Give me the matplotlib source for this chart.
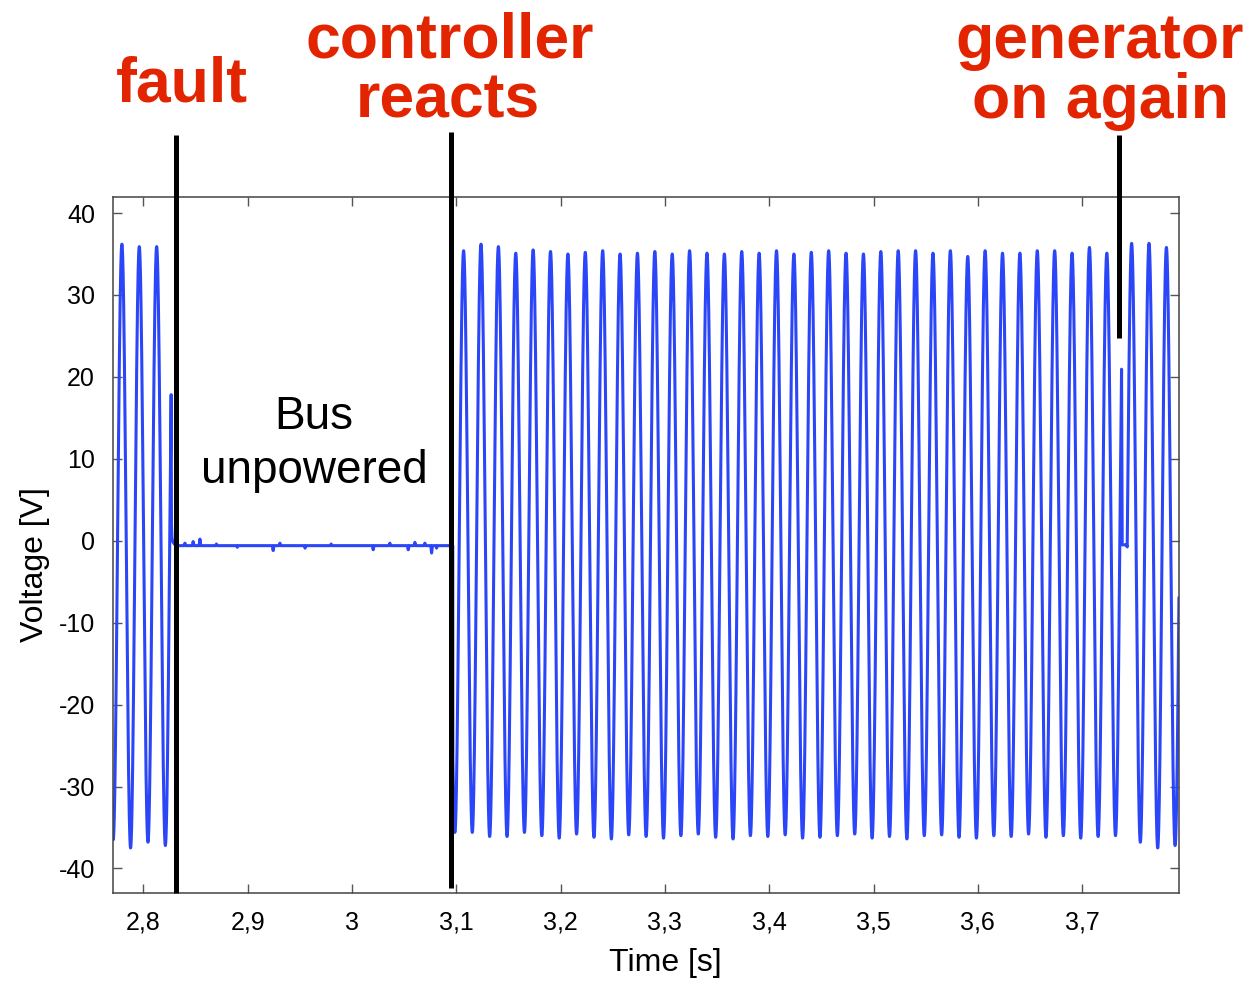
import numpy as np
import matplotlib.pyplot as plt
import matplotlib.transforms as mtransforms

plt.rcParams['font.family'] = ['Liberation Sans', 'DejaVu Sans']
plt.rcParams['axes.unicode_minus'] = False

period = 1 / 60.0

# --- segment 1: generator running, until the fault (values alternate peak / trough) ---
seg1_first_peak = 2.7627
seg1_extremes = [36.0, -36.5, 36.2, -37.5, 35.9, -36.8, 35.9, -37.2, 36.0]
seg1_end = 2.8266          # waveform collapses here (spike ~16.6 V)

# fault transient down to the unpowered level
tail_t = [2.8269, 2.8274, 2.8285, 2.8300, 2.8320]
tail_v = [2.0, 0.3, -0.2, -0.45, -0.6]

# --- bus unpowered: flat level with a few small glitches ---
flat_level = -0.6
flat_start = 2.8320
flat_end = 3.0966
glitch_t = [2.8398, 2.8477, 2.8542, 2.8700, 2.8900, 2.9244, 2.9309, 2.9550,
            2.9800, 3.0203, 3.0363, 3.0539, 3.0603, 3.0699, 3.0763, 3.0811]
glitch_v = [-0.3, -0.1, 0.2, -0.4, -0.8, -1.2, -0.3, -0.9,
            -0.4, -1.1, -0.3, -1.1, -0.2, -0.3, -1.5, -0.9]

# --- segment 2: controller reconnects the bus ---
seg2_first_peak = 3.0903
seg2_lead_peak = 35.0
seg2_troughs = [-35.6, -35.6, -36.1, -36.1, -35.6, -36.0, -36.3, -35.8, -36.2, -36.4,
                -35.9, -36.1, -36.3, -36.0, -35.8, -36.2, -36.4, -36.0, -36.1, -35.9,
                -36.3, -36.2, -36.0, -35.8, -36.3, -36.1, -36.4, -36.0, -35.9, -36.2,
                -36.3, -36.0, -36.1, -35.8, -36.2, -36.0, -36.3, -36.1, -36.0]
seg2_peaks = [35.4, 36.2, 35.9, 35.1, 35.5, 35.3, 35.0, 35.2, 35.4, 35.0,
              35.1, 35.3, 35.0, 35.4, 35.1, 35.0, 35.3, 35.1, 35.4, 35.0,
              35.2, 35.4, 35.1, 35.0, 35.3, 35.4, 35.4, 35.1, 35.4, 34.7,
              35.4, 35.1, 35.1, 35.4, 35.4, 35.1, 35.8, 35.1, 36.0]
seg2_end = 3.7378          # spike ~21 V before the short dropout

# short dropout when the generator comes back
drop_t = [3.7384, 3.7425]
drop_v = [-0.5, -0.5]

# --- segment 3: generator on again ---
seg3_first_extreme = 3.7391
seg3_extremes = [-36.0, 36.3, -36.8, 36.3, -37.5, 35.8, -37.2, 36.0]
seg3_start = 3.7432

# annotation lines (time, top value, bottom value)
event_t = [2.8312, 3.0953, 3.7356]
event_top = [49.5, 49.9, 49.5]
event_bottom = [-43.0, -42.4, 24.8]

xtick_vals = [2.8, 2.9, 3.0, 3.1, 3.2, 3.3, 3.4, 3.5, 3.6, 3.7]
xtick_labels = ['2,8', '2,9', '3', '3,1', '3,2', '3,3', '3,4', '3,5', '3,6', '3,7']
ytick_vals = [40, 30, 20, 10, 0, -10, -20, -30, -40]


def waveform(first_time, extremes, t):
    ext = np.array(extremes)
    times = first_time + np.arange(len(ext)) * period / 2
    idx = np.clip(np.searchsorted(times, t) - 1, 0, len(ext) - 2)
    v0 = ext[idx]
    v1 = ext[idx + 1]
    ph = (t - times[idx]) / (period / 2)
    return (v0 + v1) / 2 + (v0 - v1) / 2 * np.cos(np.pi * ph)


def alternate(lead, troughs, peaks):
    out = [lead]
    for i in range(len(troughs)):
        out.append(troughs[i])
        if i < len(peaks):
            out.append(peaks[i])
    return out


step = 2e-5
t1 = np.arange(2.7600, seg1_end, step)
v1 = waveform(seg1_first_peak, seg1_extremes, t1)

ft = [flat_start]
fv = [flat_level]
for g, gv in zip(glitch_t, glitch_v):
    ft += [g - 0.0008, g, g + 0.0008]
    fv += [flat_level, gv, flat_level]
ft.append(flat_end)
fv.append(flat_level)

seg2_ext = alternate(seg2_lead_peak, seg2_troughs, seg2_peaks)
t2 = np.arange(flat_end, seg2_end, step)
v2 = waveform(seg2_first_peak, seg2_ext, t2)

t3 = np.arange(seg3_start, 3.80, step)
v3 = waveform(seg3_first_extreme, seg3_extremes, t3)

t_all = np.concatenate([t1, tail_t, ft, t2, drop_t, t3])
v_all = np.concatenate([v1, tail_v, fv, v2, drop_v, v3])

fig = plt.figure(figsize=(12.55, 9.81), dpi=100)
ax = fig.add_axes([0.0900, 0.0897, 0.8494, 0.7090])

ax.plot(t_all, v_all, color='#2b45f8', lw=2.2, zorder=2)

for x, top, bot in zip(event_t, event_top, event_bottom):
    ax.plot([x, x], [bot, top], color='black', lw=3.6, clip_on=False, zorder=5,
            solid_capstyle='butt')

ax.set_xlim(2.7708, 3.7928)
ax.set_ylim(-43.0, 41.9)
ax.set_xticks(xtick_vals)
ax.set_yticks(ytick_vals)
ax.tick_params(direction='in', top=True, right=True, length=6.5, width=1.0,
               color='#555555', labelsize=18, pad=13)
ax.tick_params(axis='x', labelbottom=False)
for sp in ax.spines.values():
    sp.set_color('#444444')
    sp.set_linewidth(1.1)

# x tick labels placed on a common baseline (comma labels would otherwise shift)
xlab_tr = mtransforms.blended_transform_factory(ax.transData, ax.transAxes)
for v, s in zip(xtick_vals, xtick_labels):
    ax.text(v, -0.0525, s, transform=xlab_tr, fontsize=18, ha='center',
            va='baseline', clip_on=False)


def px(x, y):
    return x / 1255, 1 - y / 981


fig.text(*px(665, 963), 'Time [s]', fontsize=23, ha='center', va='center')
fig.text(*px(35, 565), 'Voltage [V]', fontsize=23, ha='center', va='center',
         rotation=90)

fig.text(*px(314, 429), 'Bus', fontsize=33, ha='center', va='baseline')
fig.text(*px(314, 483), 'unpowered', fontsize=33, ha='center', va='baseline')

red = '#e32400'
fig.text(*px(182, 102), 'fault', fontsize=45, fontweight='bold', color=red,
         ha='center', va='baseline')
fig.text(*px(450, 57), 'controller', fontsize=45, fontweight='bold', color=red,
         ha='center', va='baseline')
fig.text(*px(448, 117), 'reacts', fontsize=45, fontweight='bold', color=red,
         ha='center', va='baseline')
fig.text(*px(1100, 58), 'generator', fontsize=45, fontweight='bold', color=red,
         ha='center', va='baseline')
fig.text(*px(1101, 118), 'on again', fontsize=45, fontweight='bold', color=red,
         ha='center', va='baseline')

fig.savefig('out.png', dpi=100)
